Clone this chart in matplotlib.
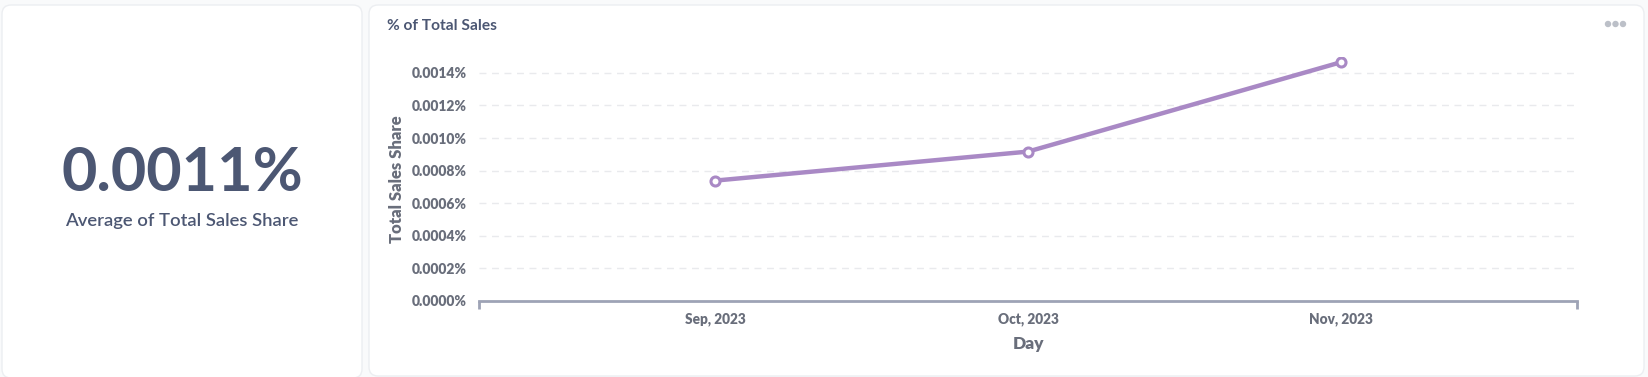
import numpy as np
import matplotlib
matplotlib.use("Agg")
import matplotlib.pyplot as plt
from matplotlib.patches import FancyBboxPatch, Ellipse

plt.rcParams['font.family'] = ['Lato', 'DejaVu Sans']

# data
months = ["Sep, 2023", "Oct, 2023", "Nov, 2023"]
share = [0.000739, 0.000917, 0.001465]   # percent
avg_label = "0.0011%"
y_ticks = [0.0, 0.0002, 0.0004, 0.0006, 0.0008, 0.0010, 0.0012, 0.0014]

W, H = 1648, 377
fig = plt.figure(figsize=(W / 100, H / 100), dpi=100)
fig.patch.set_facecolor("#f9fafb")

dark = "#4c5773"
grey = "#696e7b"
purple = "#a989c5"


def card(x0, y0, x1, y1):
    # pixel coords, top-left origin
    p = FancyBboxPatch((x0 / W, 1 - y1 / H), (x1 - x0) / W, (y1 - y0) / H,
                       boxstyle="round,pad=0,rounding_size=0.0055",
                       transform=fig.transFigure, facecolor="white",
                       edgecolor="#eceef1", linewidth=1.0,
                       mutation_aspect=W / H, zorder=-1)
    fig.patches.append(p)


card(2, 5, 362, 378)
card(369, 5, 1644, 376)

# left number card
fig.text(182 / W, 1 - 173 / H, avg_label, ha="center", va="center",
         fontsize=44, fontweight="bold", color=dark)
fig.text(182 / W, 1 - 221 / H, "Average of Total Sales Share", ha="center",
         va="center", fontsize=13.3, fontweight="semibold", color=dark)

# right card title + menu dots
fig.text(387 / W, 1 - 26 / H, "% of Total Sales", ha="left", va="center",
         fontsize=11.2, fontweight="bold", color=dark)
for dx in [1608, 1615.5, 1623]:
    fig.patches.append(Ellipse((dx / W, 1 - 24 / H), 5 / W, 5 / H,
                               transform=fig.transFigure, color="#bcc0c8"))

# chart axes
left, right = 479.3, 1576.7
bottom_px, top_px = 301, 56.6
ax = fig.add_axes([left / W, 1 - bottom_px / H, (right - left) / W,
                   (bottom_px - top_px) / H])
ax.set_facecolor("none")

x = np.arange(len(months))
ax.plot(x, share, color=purple, linewidth=3.2, marker="o", markersize=6.5,
        markerfacecolor="white", markeredgecolor=purple, markeredgewidth=2.2,
        zorder=3, solid_capstyle="round")

ax.set_xlim(-0.755, len(months) - 1 + 0.755)
ax.set_ylim(0, 0.0015)

ax.set_yticks(y_ticks)
ax.set_yticklabels([f"{v:.4f}%" for v in y_ticks], fontweight="heavy",
                   fontsize=10, color=grey)
ax.set_xticks(x)
ax.set_xticklabels(months, fontweight="heavy", fontsize=9.8, color=grey)
ax.set_xticks(list(ax.get_xlim()), minor=True)

for s in ["top", "right", "left"]:
    ax.spines[s].set_visible(False)
ax.spines["bottom"].set_color("#9ea3b6")
ax.spines["bottom"].set_linewidth(2)

ax.tick_params(axis="y", length=0, pad=9)
ax.tick_params(axis="x", which="major", length=0, pad=8)
ax.tick_params(axis="x", which="minor", length=6, width=2, color="#9ea3b6",
               direction="out")

for v in y_ticks[1:]:
    ax.axhline(v, color="#e9eaed", linewidth=1, linestyle=(0, (5, 4)), zorder=1)

ax.set_ylabel("Total Sales Share", fontsize=12, fontweight="heavy",
              color=grey, labelpad=5)
ax.set_xlabel("Day", fontsize=12.5, fontweight="heavy", color=grey,
              labelpad=7)

fig.savefig("out.png", dpi=100, facecolor=fig.get_facecolor())
